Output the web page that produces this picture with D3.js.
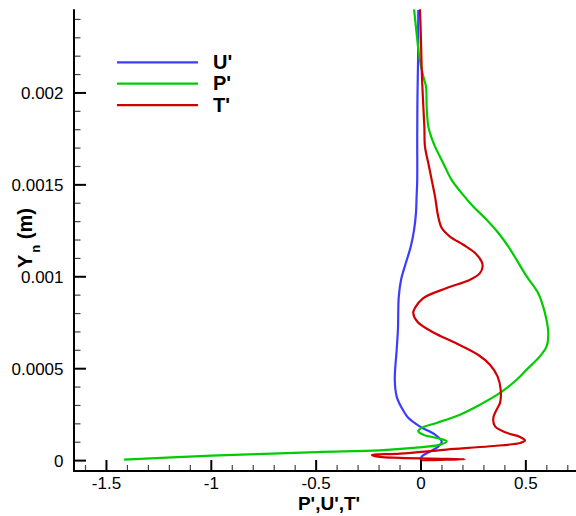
<!DOCTYPE html>
<html><head><meta charset="utf-8">
<script src="https://cdn.jsdelivr.net/npm/d3@7"></script>
<style>
html,body{margin:0;padding:0;background:#fff;}
text{font-family:Arial,"Liberation Sans",Helvetica,sans-serif;fill:#000;}
</style></head>
<body>
<svg id="chart" width="576" height="516"></svg>
<script>
// ---- data ----
const seriesNames = ["U'", "P'", "T'"];
const seriesColors = ["#3c3cff", "#00cc00", "#d00000"];

// U' : [value, Yn (m)]
const uData = [
 [-0.013,0.002451],[-0.014,0.002179],[-0.017,0.001962],[-0.018,0.001745],[-0.018,0.001527],
 [-0.021,0.001435],[-0.024,0.001348],[-0.033,0.001255],[-0.049,0.001163],[-0.072,0.001076],
 [-0.095,0.000984],[-0.106,0.000891],[-0.110,0.000712],[-0.116,0.000603],[-0.125,0.000440],
 [-0.116,0.000348],[-0.100,0.000304],[-0.081,0.000266],[-0.062,0.000234],[-0.005,0.000185],
 [0.067,0.000141],[0.099,0.000103],[0.082,0.000076],[0.043,0.000049],[0.003,0.000022],[0.0,0.0]
];
// P'
const pData = [
 [-0.033,0.002455],[-0.021,0.002326],[-0.008,0.002197],[0.011,0.002089],[0.024,0.002034],
 [0.027,0.001926],[0.035,0.001817],[0.051,0.001754],[0.067,0.001708],[0.106,0.001618],
 [0.146,0.001527],[0.194,0.001455],[0.249,0.001382],[0.313,0.001310],[0.369,0.001238],
 [0.416,0.001165],[0.456,0.001092],[0.504,0.001002],[0.559,0.000911],[0.591,0.000803],
 [0.607,0.000694],[0.599,0.000621],[0.567,0.000567],[0.504,0.000495],[0.456,0.000440],
 [0.377,0.000368],[0.281,0.000304],[0.186,0.000250],[0.075,0.000205],[0.003,0.000178],
 [-0.013,0.000159],[0.011,0.000141],[0.075,0.000123],[0.123,0.000105],[0.091,0.000087],
 [-0.037,0.000069],[-0.196,0.000056],[-0.497,0.000046],[-0.998,0.000027],[-1.416,0.000005]
];
// T'
const tData = [
 [-0.005,0.002455],[-0.001,0.002326],[0.003,0.002143],[0.008,0.001998],[0.016,0.001817],
 [0.019,0.001708],[0.035,0.001618],[0.051,0.001527],[0.067,0.001436],[0.082,0.001328],
 [0.099,0.001265],[0.138,0.001219],[0.202,0.001174],[0.258,0.001129],[0.289,0.001083],
 [0.294,0.001056],[0.281,0.001020],[0.234,0.000984],[0.123,0.000939],[0.011,0.000884],
 [-0.029,0.000830],[-0.037,0.000803],[-0.017,0.000755],[0.057,0.000698],[0.172,0.000636],
 [0.272,0.000576],[0.329,0.000522],[0.365,0.000458],[0.380,0.000386],[0.377,0.000314],
 [0.369,0.000295],[0.345,0.000232],[0.353,0.000186],[0.409,0.000151],[0.472,0.000129],
 [0.496,0.000110],[0.472,0.000096],[0.329,0.000078],[0.123,0.000060],[-0.100,0.000038],
 [-0.234,0.000031],[-0.196,0.000020],[-0.100,0.000015],[0.043,0.000011],[0.210,0.000008],
 [0.091,0.000004],[0.0,0.000002]
];
const allSeries = [uData, pData, tData];

const xMajorTicks = [-1.5, -1, -0.5, 0, 0.5];
const xTickLabels = ["-1.5", "-1", "-0.5", "0", "0.5"];
const yMajorTicks = [0, 0.0005, 0.001, 0.0015, 0.002];
const yTickLabels = ["0", "0.0005", "0.001", "0.0015", "0.002"];

// ---- drawing ----
const svg = d3.select("#chart");
const x = d3.scaleLinear().domain([-1.6548, 0.7392]).range([74, 576]);
const y = d3.scaleLinear().domain([-0.0000565, 0.002455]).range([471, 9.3]);

// curves
const line = d3.line().x(d => x(d[0])).y(d => y(d[1])).curve(d3.curveCatmullRom.alpha(0.5));
const plot = svg.append("g");
allSeries.forEach((s, i) => {
  plot.append("path").datum(s).attr("d", line)
    .attr("fill", "none").attr("stroke", seriesColors[i]).attr("stroke-width", 2.2)
    .attr("stroke-linejoin", "round");
});

// x axis
const xMinor = d3.range(-16, 8).map(v => v / 10);
const gx = svg.append("g");
gx.selectAll("line.minor").data(xMinor.filter(v => !xMajorTicks.some(m => Math.abs(m - v) < 1e-9)))
  .join("line").attr("x1", d => x(d)).attr("x2", d => x(d)).attr("y1", 471).attr("y2", 465)
  .attr("stroke", "#444").attr("stroke-width", 1.2);
gx.selectAll("line.major").data(xMajorTicks).join("line")
  .attr("x1", d => x(d)).attr("x2", d => x(d)).attr("y1", 471).attr("y2", 460)
  .attr("stroke", "#000").attr("stroke-width", 2);
gx.append("line").attr("x1", 73).attr("x2", 576).attr("y1", 471).attr("y2", 471)
  .attr("stroke", "#000").attr("stroke-width", 2);
gx.selectAll("text").data(xMajorTicks).join("text")
  .attr("x", d => x(d)).attr("y", 489).attr("text-anchor", "middle")
  .style("font-size", "17px").text((d, i) => xTickLabels[i]);

// y axis
const yMinor = d3.range(0, 25).map(v => v / 10000);
const gy = svg.append("g");
gy.selectAll("line.minor").data(yMinor.filter(v => !yMajorTicks.some(m => Math.abs(m - v) < 1e-12)))
  .join("line").attr("x1", 74).attr("x2", 80.5).attr("y1", d => y(d)).attr("y2", d => y(d))
  .attr("stroke", "#444").attr("stroke-width", 1.2);
gy.selectAll("line.major").data(yMajorTicks).join("line")
  .attr("x1", 74).attr("x2", 86).attr("y1", d => y(d)).attr("y2", d => y(d))
  .attr("stroke", "#000").attr("stroke-width", 2);
gy.append("line").attr("x1", 74).attr("x2", 74).attr("y1", 9.3).attr("y2", 472)
  .attr("stroke", "#000").attr("stroke-width", 2);
gy.selectAll("text").data(yMajorTicks).join("text")
  .attr("x", 63.5).attr("y", d => y(d) + 6).attr("text-anchor", "end")
  .style("font-size", "17px").text((d, i) => yTickLabels[i]);

// axis titles
svg.append("text").attr("x", 329).attr("y", 510).attr("text-anchor", "middle")
  .style("font-size", "19px").style("font-weight", "bold").text("P',U',T'");
const yt = svg.append("text").attr("transform", "translate(32,238) rotate(-90)")
  .attr("text-anchor", "middle").style("font-size", "20px").style("font-weight", "bold");
yt.append("tspan").text("Y");
yt.append("tspan").attr("dy", 8).attr("dx", 2).style("font-size", "13px").text("n");
yt.append("tspan").attr("dy", -8).text(" (m)");

// legend
const legY = [62.3, 83.7, 105.2];
const leg = svg.append("g");
seriesNames.forEach((n, i) => {
  leg.append("line").attr("x1", 117).attr("x2", 198).attr("y1", legY[i]).attr("y2", legY[i])
    .attr("stroke", seriesColors[i]).attr("stroke-width", 2.2);
  leg.append("text").attr("x", 213).attr("y", legY[i] + 6.5)
    .style("font-size", "20px").style("font-weight", "bold").text(n);
});
</script>
</body></html>
